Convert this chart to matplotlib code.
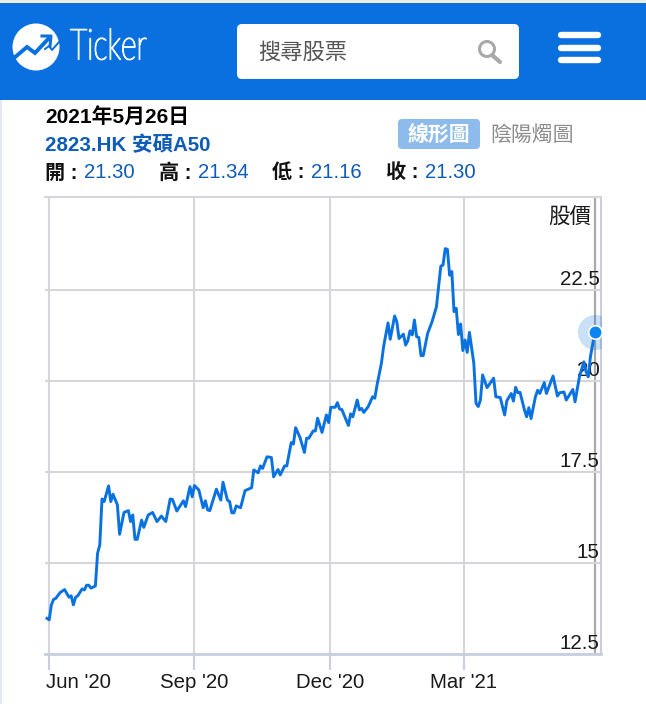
import matplotlib
matplotlib.use("Agg")
import matplotlib.pyplot as plt
from matplotlib.patches import Circle, FancyBboxPatch, Rectangle
from matplotlib.patheffects import AbstractPathEffect
from matplotlib.transforms import Affine2D, ScaledTranslation

plt.rcParams['font.family'] = ['Liberation Sans', 'Noto Sans CJK TC', 'DejaVu Sans']

sessions = [0, 1, 2, 3, 4, 6, 8, 10, 11, 12, 13, 14, 16, 17, 18, 19, 20, 22, 23, 24,
            25, 26, 28, 29, 30, 32, 33, 35, 37, 38, 39, 40, 41, 43, 44, 46, 48, 50, 52, 54,
            56, 57, 59, 62, 63, 65, 66, 67, 69, 71, 72, 73, 74, 77, 79, 80, 82, 83, 84, 85,
            86, 88, 90, 93, 94, 96, 97, 98, 100, 102, 103, 105, 106, 108, 109, 111, 112, 113, 115, 117,
            118, 119, 121, 122, 123, 125, 127, 128, 129, 131, 132, 133, 134, 137, 138, 139, 141, 142, 143, 144,
            146, 148, 149, 150, 152, 153, 155, 156, 158, 159, 160, 162, 163, 164, 165, 166, 167, 168, 169, 170,
            171, 173, 175, 177, 179, 180, 181, 182, 183, 184, 185, 186, 187, 188, 189, 190, 191, 192, 194, 195,
            196, 197, 198, 200, 203, 204, 206, 208, 209, 211, 212, 213, 214, 215, 217, 218, 219, 220, 222, 223,
            224, 226, 227, 230, 232, 233, 235, 236, 239, 240, 242, 244, 245, 246, 247, 249]
prices = [13.47, 13.43, 13.84, 13.99, 14.02, 14.18, 14.26, 14.05, 14.09, 13.84, 14.05, 14.09, 14.28, 14.25, 14.38, 14.38, 14.30, 14.36, 15.26, 15.49,
          16.75, 16.68, 17.11, 16.68, 16.88, 16.59, 15.78, 16.38, 16.43, 16.13, 16.31, 15.64, 15.64, 16.17, 15.97, 16.31, 16.38, 16.13, 16.28, 16.13,
          16.75, 16.74, 16.42, 16.70, 16.54, 17.09, 16.81, 17.12, 17.00, 16.51, 16.70, 16.45, 16.43, 17.02, 16.72, 17.21, 16.72, 16.68, 16.37, 16.37,
          16.56, 16.51, 16.98, 17.06, 17.55, 17.47, 17.66, 17.59, 17.91, 17.89, 17.36, 17.56, 17.41, 17.66, 17.66, 18.30, 18.26, 18.71, 18.44, 18.03,
          18.42, 18.42, 18.62, 18.62, 18.97, 18.58, 19.06, 18.85, 19.27, 19.27, 19.40, 19.22, 19.21, 18.77, 19.09, 19.01, 19.47, 19.20, 19.24, 19.13,
          19.29, 19.56, 19.52, 19.88, 20.48, 20.94, 21.59, 21.14, 21.78, 21.62, 21.16, 21.28, 20.98, 21.10, 21.37, 21.26, 21.67, 21.21, 21.19, 20.69,
          20.69, 21.30, 21.62, 22.03, 23.15, 23.18, 23.63, 23.61, 22.90, 23.00, 21.90, 21.99, 21.27, 21.56, 20.83, 21.12, 20.78, 21.33, 20.48, 19.38,
          19.29, 19.47, 20.16, 19.81, 20.07, 19.56, 19.54, 19.06, 19.45, 19.65, 19.44, 19.82, 19.67, 19.68, 19.20, 19.01, 19.26, 18.96, 19.56, 19.74,
          19.65, 19.95, 19.65, 20.13, 19.58, 19.67, 19.69, 19.47, 19.76, 19.42, 20.11, 20.52, 20.25, 20.11, 20.66, 21.34]

month_ticks = [1, 67, 128.6, 189.5]
month_labels = ["Jun '20", "Sep '20", "Dec '20", "Mar '21"]
price_ticks = [12.5, 15, 17.5, 20, 22.5]
price_labels = ["12.5", "15", "17.5", "20", "22.5"]

quote_date = "2021年5月26日"
quote_name = "2823.HK 安碩A50"
ohlc_names = ["開", "高", "低", "收"]
ohlc_values = ["21.30", "21.34", "21.16", "21.30"]

W, H = 646, 704
BLUE = "#0a6fdf"
LINE = "#0a72e0"
GRID = "#d6d6da"
AXIS = "#c9cede"
QUOTE = "#0f5cb8"


class Squeeze(AbstractPathEffect):
    # no condensed font here, so narrow the logo word around its left edge
    def __init__(self, x0, factor, stroke):
        super().__init__()
        self.x0 = x0
        self.factor = factor
        self.stroke = stroke

    def draw_path(self, renderer, gc, tpath, affine, rgbFace=None):
        squeeze = Affine2D().translate(-self.x0, 0).scale(self.factor, 1).translate(self.x0, 0)
        gc0 = renderer.new_gc()
        gc0.copy_properties(gc)
        gc0.set_linewidth(self.stroke)
        gc0.set_foreground(rgbFace)
        renderer.draw_path(gc0, tpath, affine + squeeze, rgbFace)
        gc0.restore()


fig = plt.figure(figsize=(W / 100, H / 100), dpi=100, facecolor="white")

# page furniture, in pixel coordinates
page = fig.add_axes([0, 0, 1, 1], zorder=0)
page.set_xlim(0, W)
page.set_ylim(H, 0)
page.axis("off")

page.add_patch(Rectangle((0, 0), W, 3, color="#efece2", lw=0))
page.add_patch(Rectangle((0, 3), W, 97, color=BLUE, lw=0))
page.add_patch(Rectangle((0, 100), 2, H - 100, color="#e4e8f4", lw=0))

page.add_patch(Circle((36, 47), 23.5, color="white", lw=0))
page.plot([14, 27, 35, 49], [58, 47, 53, 38], color=BLUE, lw=2.8, solid_joinstyle="miter")
page.plot([42, 51, 50], [36, 36, 46], color=BLUE, lw=2.2)
page.plot([45, 49, 52, 59], [49, 46, 50, 42], color=BLUE, lw=1.4)
ticker = page.text(70, 48, "Ticker", color="#eef6fe", fontsize=31, va="center",
                   family="Lato", fontweight="light")
ticker.set_path_effects([Squeeze(70, 0.70, 1.0)])

page.add_patch(FancyBboxPatch((240, 27), 276, 49, boxstyle="round,pad=3,rounding_size=5",
                              fc="white", ec="none"))
page.text(258, 53, "搜尋股票", color="#555555", fontsize=16, va="center")
page.add_patch(Circle((487, 49), 7.5, fc="none", ec="#a9a9a9", lw=2.2))
page.plot([492, 500], [55, 62], color="#a9a9a9", lw=3, solid_capstyle="round")
for bar_y in [35, 48, 60]:
    page.plot([561, 598], [bar_y, bar_y], color="white", lw=4.6, solid_capstyle="round")

page.text(45, 117, quote_date, fontsize=15, fontweight="bold", color="black", va="center")
page.text(45, 145, quote_name, fontsize=14.8, fontweight="bold", color=QUOTE, va="center")

page.add_patch(FancyBboxPatch((400, 121), 78, 26, boxstyle="round,pad=2,rounding_size=4",
                              fc="#8dbcec", ec="none"))
page.text(439, 135, "線形圖", color="white", fontsize=15, ha="center", va="center", fontweight="bold")
page.text(532, 135, "陰陽燭圖", color="#8c8c8c", fontsize=15, ha="center", va="center")

for name, value, x in zip(ohlc_names, ohlc_values, [45, 159, 272, 386]):
    page.text(x, 173, name + " :", fontsize=14.5, fontweight="bold", color="#111111", va="center")
    page.text(x + 39, 173, value, fontsize=14.6, color=QUOTE, va="center")

# price chart
left, right, top, bottom = 45, 601, 197, 654
ax = fig.add_axes([left / W, 1 - bottom / H, (right - left) / W, (bottom - top) / H], zorder=1)
ax.patch.set_alpha(0)
ax.set_xlim(-0.9, 251.8)
ax.set_ylim(12.49, 25.05)

ax.plot(sessions, prices, color=LINE, lw=2.1, solid_joinstyle="round", zorder=3)
ax.axvline(sessions[-1], color="#a9a9ad", lw=1.6, zorder=1)
ax.scatter(sessions[-1], prices[-1], s=640, color=LINE, alpha=0.22, lw=0, zorder=4)
ax.scatter(sessions[-1], prices[-1], s=95, color="#0a84ee", edgecolors="white", lw=1.2, zorder=5, clip_on=False)

ax.set_xticks(month_ticks, month_labels)
ax.set_yticks(price_ticks, price_labels)
ax.yaxis.tick_right()
ax.grid(True, color=GRID, lw=1.5)
ax.set_axisbelow("line")
ax.tick_params(axis="x", length=11.5, width=1.5, color=AXIS, labelsize=14.7, pad=2.5, labelcolor="#1a1a1a")
ax.tick_params(axis="y", length=0, labelsize=14.8, pad=-1, labelcolor="#1a1a1a")
for label in ax.get_yticklabels():
    label.set_ha("right")
    label.set_va("bottom")
    label.set_transform(label.get_transform() + ScaledTranslation(0, 0.6 / 72, fig.dpi_scale_trans))

first = ax.get_xticklabels()[0]
first.set_ha("left")
first.set_transform(first.get_transform() + ScaledTranslation(-2.2 / 72, 0, fig.dpi_scale_trans))

ax.spines["left"].set_visible(False)
ax.spines["top"].set_color(GRID)
ax.spines["top"].set_linewidth(1.5)
ax.spines["right"].set_color(AXIS)
ax.spines["right"].set_linewidth(1.5)
ax.spines["bottom"].set_color(AXIS)
ax.spines["bottom"].set_linewidth(2)

ax.text(0.982, 0.953, "股價", transform=ax.transAxes, fontsize=15.5, ha="right", va="center", color="#1a1a1a")

fig.savefig("out.png", dpi=100)
